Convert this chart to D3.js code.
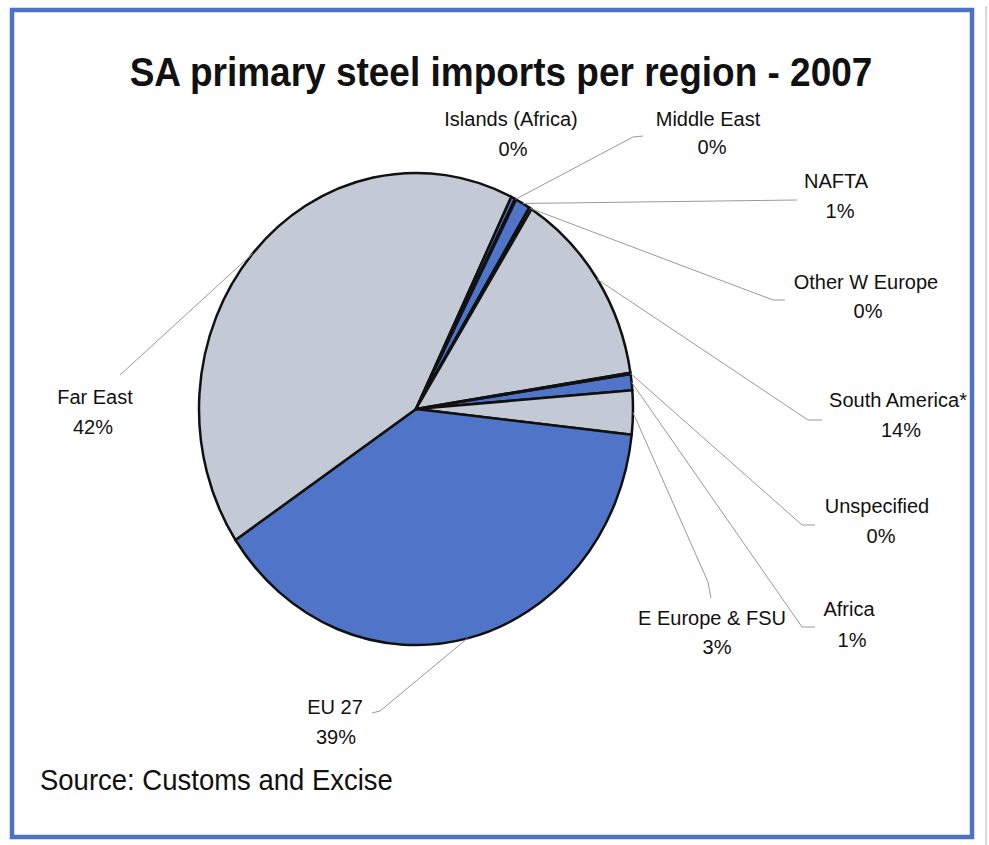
<!DOCTYPE html>
<html>
<head>
<meta charset="utf-8">
<script src="https://cdn.jsdelivr.net/npm/d3@7"></script>
<style>
  html, body { margin: 0; padding: 0; background: #fff; }
  svg { display: block; }
  text { font-family: "Liberation Sans", Arial, sans-serif; fill: #111; }
</style>
</head>
<body>
<svg id="chart" width="989" height="845"></svg>
<script>
// Regions (Excel order, clockwise) and their share of 2007 imports, in percent
const regions = ["Africa", "E Europe & FSU", "EU 27", "Far East", "Islands (Africa)",
                 "Middle East", "NAFTA", "Other W Europe", "South America*", "Unspecified"];
const shares  = [1.1, 3.0, 38.9, 41.6, 0.3, 0.1, 1.1, 0.2, 13.6, 0.1];

const title  = "SA primary steel imports per region - 2007";
const source = "Source: Customs and Excise";

// ---- styling / layout ----
const BLUE = "#5075c8", GREY = "#c4c9d6";
const fillOf = {
  "Africa": BLUE, "E Europe & FSU": GREY, "EU 27": BLUE, "Far East": GREY,
  "Islands (Africa)": BLUE, "Middle East": GREY, "NAFTA": BLUE,
  "Other W Europe": GREY, "South America*": GREY, "Unspecified": BLUE
};
const cx = 416, cy = 409, r = 217, ky = 1.088;   // pie is slightly taller than wide
const startDeg = 81.5;

// label placement: name/value text centres and baselines, leader line path ends
const labelLayout = {
  "Islands (Africa)": { x: 511, y: 126, vx: 513, vy: 156, path: null },
  "Middle East":      { x: 708, y: 126, vx: 712, vy: 154, path: [[633, 137], [643, 136]] },
  "NAFTA":            { x: 836, y: 188, vx: 840, vy: 218, path: [[797, 200]] },
  "Other W Europe":   { x: 866, y: 289, vx: 868, vy: 318, path: [[773, 300], [785, 300]] },
  "South America*":   { x: 898, y: 407, vx: 901, vy: 437, path: [[808, 420], [822, 420]] },
  "Unspecified":      { x: 877, y: 513, vx: 881, vy: 543, path: [[802, 525], [815, 525]] },
  "Africa":           { x: 849, y: 616, vx: 852, vy: 647, path: [[802, 627], [815, 627]] },
  "E Europe & FSU":   { x: 712, y: 625, vx: 717, vy: 654, path: [[708, 582], [711, 598]] },
  "EU 27":            { x: 335, y: 714, vx: 336, vy: 744, path: [[380, 711], [372, 713]] },
  "Far East":         { x: 95,  y: 404, vx: 93,  vy: 434, path: [[120, 375]] }
};

const svg = d3.select("#chart");

// frame
svg.append("rect")
  .attr("x", 12).attr("y", 10).attr("width", 960).attr("height", 827)
  .attr("fill", "#fff").attr("stroke", "#4d71c4").attr("stroke-width", 4.5);
svg.append("line")
  .attr("x1", 986).attr("y1", 6).attr("x2", 986).attr("y2", 845)
  .attr("stroke", "#c3cdea").attr("stroke-width", 1.5);

// title
svg.append("text")
  .attr("transform", "translate(501,86) scale(1,1.09)")
  .attr("text-anchor", "middle")
  .attr("font-size", 37).attr("font-weight", "bold")
  .text(title);

// pie
const data = regions.map((name, i) => ({ name, value: shares[i] }));
const total = d3.sum(shares);
const a0 = startDeg * Math.PI / 180;
const pie = d3.pie().value(d => d.value).sort(null)
  .startAngle(a0).endAngle(a0 + 2 * Math.PI);
const arcs = pie(data);
const arc = d3.arc().innerRadius(0).outerRadius(r);

const g = svg.append("g")
  .attr("transform", `translate(${cx},${cy}) scale(1,${ky})`);
g.selectAll("path.slice")
  .data(arcs)
  .join("path")
  .attr("class", "slice")
  .attr("d", arc)
  .attr("fill", d => fillOf[d.data.name])
  .attr("stroke", "#111")
  .attr("stroke-width", 2.5)
  .attr("stroke-linejoin", "round")
  .attr("vector-effect", "non-scaling-stroke");

// point on the pie rim at a given angle, in page coordinates
function rim(a) {
  return [cx + r * Math.sin(a), cy - r * ky * Math.cos(a)];
}

// leader lines
const line = d3.line();
svg.append("g").selectAll("path")
  .data(arcs.filter(d => labelLayout[d.data.name].path))
  .join("path")
  .attr("d", d => {
    const mid = (d.startAngle + d.endAngle) / 2;
    return line([rim(mid), ...labelLayout[d.data.name].path]);
  })
  .attr("fill", "none")
  .attr("stroke", "#999")
  .attr("stroke-width", 1);

// labels: region name and rounded share
const lab = svg.append("g").selectAll("g")
  .data(arcs)
  .join("g");
lab.append("text")
  .attr("x", d => labelLayout[d.data.name].x)
  .attr("y", d => labelLayout[d.data.name].y)
  .attr("text-anchor", "middle")
  .attr("font-size", 20)
  .text(d => d.data.name);
lab.append("text")
  .attr("x", d => labelLayout[d.data.name].vx)
  .attr("y", d => labelLayout[d.data.name].vy)
  .attr("text-anchor", "middle")
  .attr("font-size", 20)
  .text(d => Math.round(d.data.value / total * 100) + "%");

// source note
svg.append("text")
  .attr("transform", "translate(40,790) scale(1,1.09)")
  .attr("font-size", 27.5)
  .text(source);
</script>
</body>
</html>
